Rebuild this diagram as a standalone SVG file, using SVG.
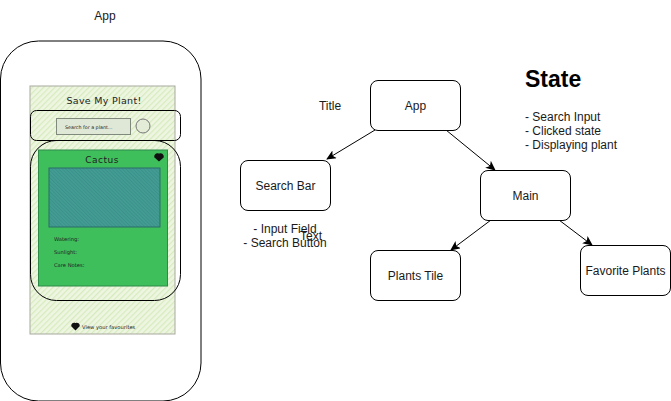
<svg xmlns="http://www.w3.org/2000/svg" width="671" height="401" viewBox="0 0 671 401">
<style>
text{font-family:"Liberation Sans",Arial,sans-serif;font-size:12px;fill:#1a1a1a}
.c{text-anchor:middle}
.n{fill:#fff;stroke:#000;stroke-width:1}
.o{fill:none;stroke:#000;stroke-width:1}
text.h{font-family:"DejaVu Sans",sans-serif;fill:#222}
text.t1{font-size:9.500px;letter-spacing:.3px}
text.t2{font-size:4.800px}
text.t3{font-size:9px;letter-spacing:.5px}
text.t4{font-size:5.200px}
.l{stroke:#000;stroke-width:1;fill:none;marker-end:url(#a)}
</style>
<defs>
<marker id="a" markerUnits="userSpaceOnUse" markerWidth="11" markerHeight="10" refX="9" refY="4.5" orient="auto"><path d="M0 0L10 4.5L0 9L2.5 4.5Z" fill="#000"/></marker>
<pattern id="p1" width="4" height="4" patternUnits="userSpaceOnUse" patternTransform="rotate(-45)"><rect width="4" height="4" fill="#eef6e2"/><rect width="4" height="1.200" fill="#d6ebbd"/></pattern>
<pattern id="p2" width="2.500" height="2.500" patternUnits="userSpaceOnUse" patternTransform="rotate(45)"><rect width="2.500" height="2.500" fill="#429c92"/><rect width="2.500" height=".8" fill="#3b908c"/></pattern>
</defs>
<g id="wireframe">
<text class="c" x="105" y="20">App</text>
<rect class="o" x="0.500" y="41" width="200.500" height="360" rx="38"/>
<rect x="30" y="86" width="145" height="248" fill="url(#p1)" stroke="#a9a9a0" stroke-width="1"/>
<text class="c h t1" x="104" y="104">Save My Plant!</text>
<rect x="56.500" y="118.500" width="74" height="16" fill="#dfe8d6" stroke="#7f8a7d"/>
<text class="h t2" x="65" y="129">Search for a plant...</text>
<circle cx="143" cy="126" r="7" fill="#e3ecd6" stroke="#777"/>
<rect x="38.500" y="150" width="129" height="136" fill="#3fbf5c" stroke="#2e8a48"/>
<text class="c h t3" x="102" y="163">Cactus</text>
<path d="M155 157l4 3.500l4-3.500a2.500 2.500 0 0 0-3-3l-1 .8l-1-.8a2.500 2.500 0 0 0-3 3z" fill="#111" stroke="#111" stroke-width="1.500"/>
<rect x="49" y="168" width="111" height="59" fill="url(#p2)" stroke="#2b6d6a"/>
<text class="h t4" x="54" y="241">Watering:</text>
<text class="h t4" x="54" y="254">Sunlight:</text>
<text class="h t4" x="54" y="267">Care Notes:</text>
<path d="M72 326l3.500 3.500l3.500-3.500a2.200 2.200 0 0 0-2.500-2.500l-1 .7l-1-.7a2.200 2.200 0 0 0-2.500 2.500z" fill="#111" stroke="#111" stroke-width="1.500"/>
<text class="h t4" x="82" y="329">View your favourites</text>
<rect class="o" x="30.500" y="110.500" width="150" height="30" rx="6"/>
<rect class="o" x="30.500" y="140.500" width="150" height="160" rx="26"/>
</g>
<g id="connectors">
<path class="l" d="M375 130L327 159"/>
<path class="l" d="M446 130L495 170"/>
<path class="l" d="M491 220L451 250"/>
<path class="l" d="M559 220L592 245"/>
</g>
<g id="node-app"><rect class="n" x="370.500" y="80.500" width="90" height="50" rx="7.500"/><text class="c" x="415.500" y="110">App</text></g>
<g id="node-search"><rect class="n" x="240.500" y="160.500" width="90" height="50" rx="7.500"/><text class="c" x="285.500" y="190">Search Bar</text></g>
<g id="node-main"><rect class="n" x="480.500" y="170.500" width="90" height="50" rx="7.500"/><text class="c" x="525.500" y="200">Main</text></g>
<g id="node-tile"><rect class="n" x="370.500" y="250.500" width="90" height="50" rx="7.500"/><text class="c" x="415.500" y="280">Plants Tile</text></g>
<g id="node-fav"><rect class="n" x="580.500" y="245.500" width="90" height="50" rx="7.500"/><text class="c" x="625.500" y="275">Favorite Plants</text></g>
<g id="labels">
<text class="c" x="330" y="110">Title</text>
<text class="c" x="285" y="233">- Input Field</text>
<text class="c" x="285" y="247">- Search Button</text>
<text class="c" x="311" y="240">Text</text>
<text x="525" y="87" style="font-size:23px;font-weight:bold;fill:#000">State</text>
<text x="525" y="121">- Search Input</text>
<text x="525" y="135">- Clicked state</text>
<text x="525" y="149">- Displaying plant</text>
</g>
</svg>
